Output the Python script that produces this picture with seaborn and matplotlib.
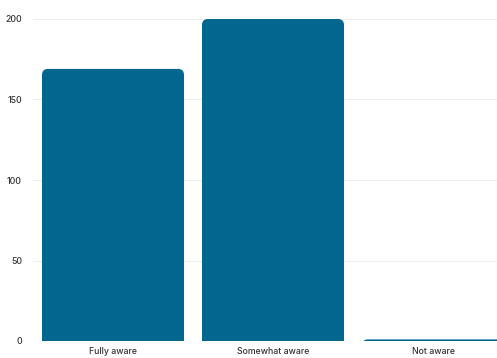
import matplotlib
matplotlib.use('Agg')
import matplotlib.pyplot as plt
from matplotlib.patches import FancyBboxPatch
import seaborn as sns
import pandas as pd

categories = ['Fully aware', 'Somewhat aware', 'Not aware']
counts = [169, 200, 1]

df = pd.DataFrame({'awareness': categories, 'count': counts})

sns.set_style('white')
plt.rcParams['font.family'] = ['Inter', 'DejaVu Sans']

fig = plt.figure(figsize=(4.97, 3.58), dpi=100)
# axes run past the right edge, as in the reference crop
ax = fig.add_axes([33/497, 17/358, 480/497, 322/358])

sns.barplot(data=df, x='awareness', y='count', color='#03668f',
            width=142/160, saturation=1, ax=ax, zorder=3)

ax.set_ylim(0, 200)
ax.set_xlim(-0.5, 2.5)

# swap the plain bars for ones with rounded tops (bottom pushed below 0, clipped)
x_per_px = 3 / 480
y_per_px = 200 / 322
for p in list(ax.patches):
    x, w, h = p.get_x(), p.get_width(), p.get_height()
    rb = FancyBboxPatch((x, -12), w, h + 12,
                        boxstyle='round,pad=0,rounding_size=%f' % (6 * x_per_px),
                        mutation_aspect=y_per_px / x_per_px,
                        facecolor=p.get_facecolor(), edgecolor='none', zorder=3)
    p.remove()
    ax.add_patch(rb)

ax.set_yticks([0, 50, 100, 150, 200])
ax.yaxis.grid(True, color='#eeeeee', linewidth=0.8, zorder=0)
ax.set_xlabel('')
ax.set_ylabel('')
ax.tick_params(axis='both', length=0, labelsize=6.3, colors='#333333')
ax.tick_params(axis='y', pad=8)
ax.tick_params(axis='x', pad=4)
for lab in ax.get_xticklabels() + ax.get_yticklabels():
    lab.set_fontweight('medium')
for s in ax.spines.values():
    s.set_visible(False)

fig.savefig('out.png', dpi=100)
